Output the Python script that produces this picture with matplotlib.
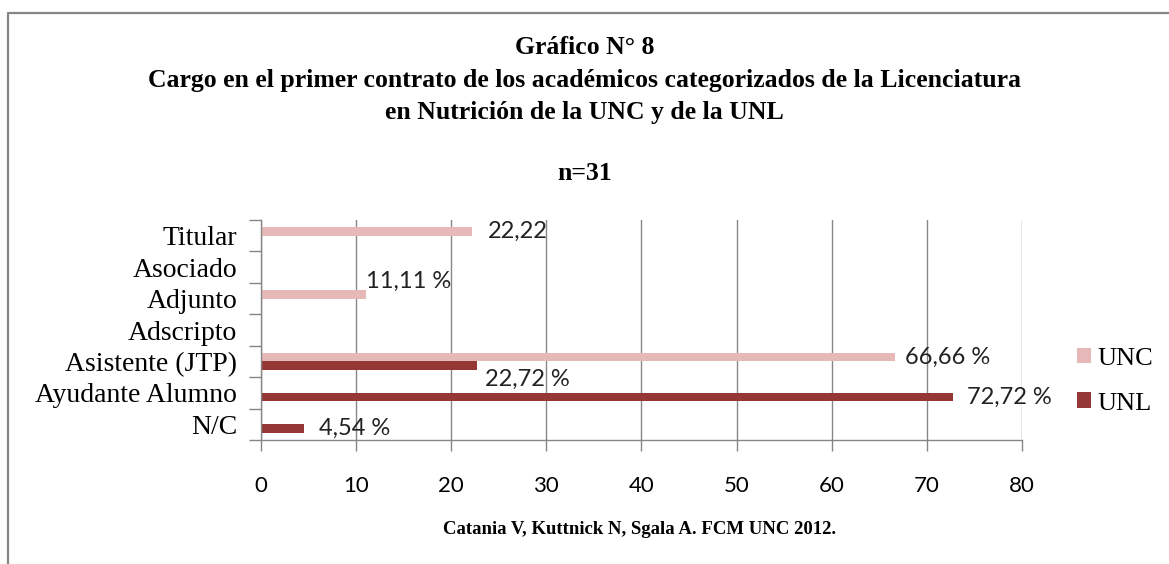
import numpy as np
import matplotlib.pyplot as plt
from matplotlib.lines import Line2D

# datos
categorias = ["Titular", "Asociado", "Adjunto", "Adscripto",
              "Asistente (JTP)", "Ayudante Alumno", "N/C"]
unc = [22.22, 0, 11.11, 0, 66.66, 0, 0]
unl = [0, 0, 0, 0, 22.72, 72.72, 4.54]
etiquetas_unc = ["22,22", "", "11,11 %", "", "66,66 %", "", ""]
etiquetas_unl = ["", "", "", "", "22,72 %", "72,72 %", "4,54 %"]
series = ["UNC", "UNL"]
x_ticks = [0, 10, 20, 30, 40, 50, 60, 70, 80]

col_unc = "#E6B9B8"
col_unl = "#953735"
gris = "#868686"
serif = "Liberation Serif"
sans = "Lato"

W, H = 1169, 564
fig = plt.figure(figsize=(W / 100, H / 100), dpi=100)

# marco gris (solo arriba e izquierda visibles)
fig.add_artist(Line2D([8 / W, 8 / W, 1.0], [0.0, 1 - 12.5 / H, 1 - 12.5 / H],
                      transform=fig.transFigure, color=gris, lw=1.6))

# titulo
tit = dict(ha="center", va="center", family=serif, weight="bold", fontsize=18.5)
fig.text(0.5, 1 - 47 / H, "Gráfico N° 8", **tit)
fig.text(0.5, 1 - 80 / H,
         "Cargo en el primer contrato de los académicos categorizados de la Licenciatura",
         **tit)
fig.text(0.5, 1 - 112 / H, "en Nutrición de la UNC y de la UNL", **tit)
fig.text(0.5, 1 - 173 / H, "n=31", **tit)
fig.text(640 / W, 1 - 530 / H, "Catania V, Kuttnick N, Sgala A. FCM UNC 2012.",
         ha="center", va="center", family=serif, weight="bold", fontsize=13.5)

ax = fig.add_axes([260.7 / W, 1 - 440 / H, (1022 - 260.7) / W, 220 / H])

y = np.arange(len(categorias))
h = 0.27
b1 = ax.barh(y - h / 2, unc, height=h, color=col_unc, label=series[0])
b2 = ax.barh(y + h / 2, unl, height=h, color=col_unl, label=series[1])

ax.set_ylim(len(categorias) - 0.5, -0.5)
ax.set_xlim(0, 80)
ax.set_xticks(x_ticks)
ax.set_xticklabels([str(t) for t in x_ticks], family=sans, fontsize=16)
ax.set_yticks(y)
ax.set_yticklabels(categorias, family=serif, fontsize=20)
ax.set_yticks(np.arange(len(categorias) + 1) - 0.5, minor=True)
ax.tick_params(axis="y", which="major", length=0, pad=17)
ax.tick_params(axis="y", which="minor", length=9, color=gris, width=1)
ax.tick_params(axis="x", length=8, color=gris, width=1, pad=18)
ax.grid(axis="x", color=gris, lw=1)
ax.set_axisbelow(True)
for s in ["top", "right"]:
    ax.spines[s].set_visible(False)
for s in ["left", "bottom"]:
    ax.spines[s].set_color(gris)
    ax.spines[s].set_linewidth(1)

# etiquetas de datos (desplazamientos en puntos, colocadas a mano como en el original)
off_unc = {0: (11, 0), 2: (0, 9), 4: (7, 0)}
off_unl = {4: (6, -10), 5: (10, 0), 6: (11, 0)}
for i, (bar, t) in enumerate(zip(b1, etiquetas_unc)):
    if t:
        dx, dy = off_unc[i]
        ax.annotate(t, (bar.get_width(), bar.get_y() + bar.get_height() / 2),
                    xytext=(dx, dy), textcoords="offset points", ha="left",
                    va="center", family=sans, fontsize=17, color="#222222")
for i, (bar, t) in enumerate(zip(b2, etiquetas_unl)):
    if t:
        dx, dy = off_unl[i]
        ax.annotate(t, (bar.get_width(), bar.get_y() + bar.get_height() / 2),
                    xytext=(dx, dy), textcoords="offset points", ha="left",
                    va="center", family=sans, fontsize=17, color="#222222")

leg = fig.legend(handles=[b1, b2], loc="center left",
                 bbox_to_anchor=(1053 / W, 1 - 381 / H), frameon=False,
                 prop={"family": serif, "size": 19}, handlelength=0.55,
                 handleheight=0.55, handletextpad=0.25, labelspacing=0.85)

fig.savefig("out.png", dpi=100)
